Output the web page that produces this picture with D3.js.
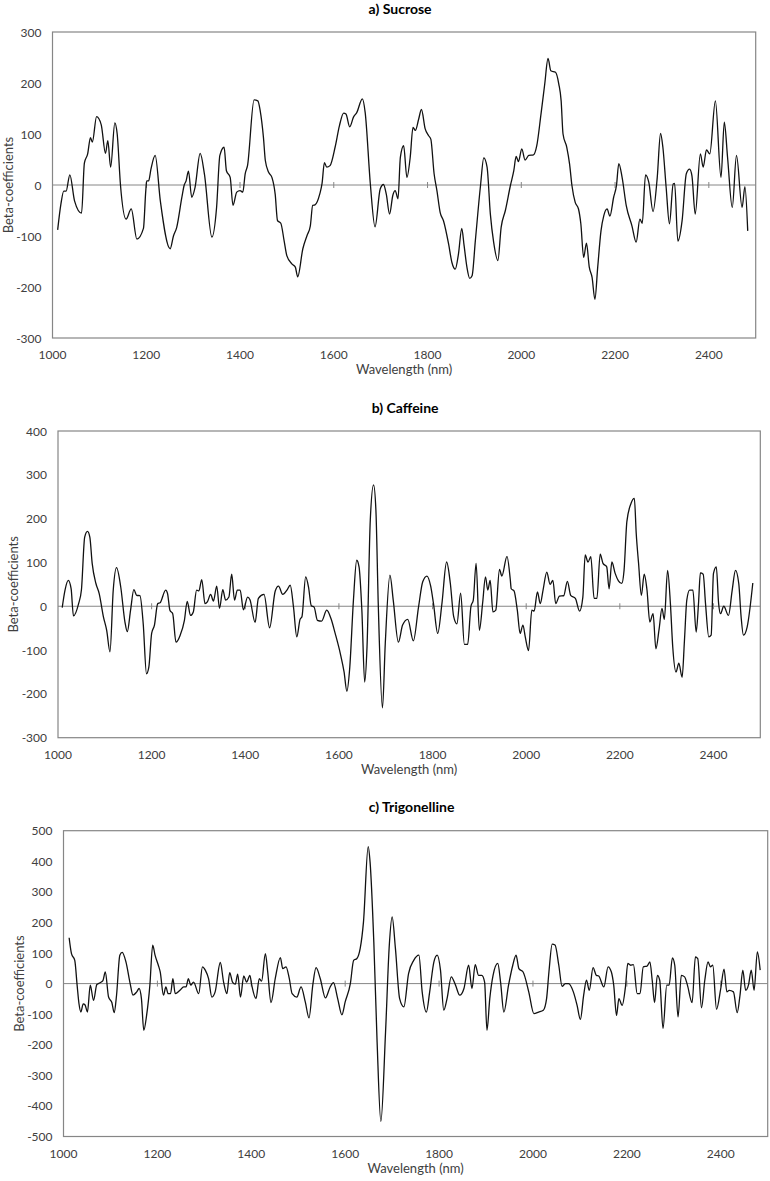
<!DOCTYPE html>
<html><head><meta charset="utf-8">
<script src="https://cdn.jsdelivr.net/npm/d3@7"></script>
<style>body{margin:0;background:#fff}svg{display:block}</style>
</head><body>
<svg id="chart" width="770" height="1181"></svg>
<script>
// ---- data (wavelength nm, beta-coefficient) ----
const sucrose = [[1011,-88],[1018,-37],[1024,-12],[1029,-12],[1037,20],[1047,-31],[1062,-55],[1068,43],[1075,61],[1081,93],[1085,84],[1094,134],[1104,118],[1113,62],[1118,87],[1124,35],[1133,122],[1138,100],[1145,0],[1157,-67],[1168,-47],[1180,-106],[1194,-85],[1199,-11],[1201,8],[1205,8],[1210,31],[1219,58],[1230,-31],[1251,-125],[1258,-100],[1265,-83],[1276,-24],[1281,0],[1285,8],[1290,27],[1297,-24],[1304,-5],[1315,62],[1324,22],[1340,-102],[1350,-44],[1357,58],[1366,74],[1371,28],[1379,15],[1385,-40],[1393,-14],[1400,-11],[1406,-14],[1411,22],[1416,38],[1430,167],[1438,165],[1443,146],[1450,93],[1454,48],[1461,25],[1468,15],[1475,-18],[1480,-70],[1487,-75],[1494,-109],[1500,-139],[1511,-155],[1518,-161],[1523,-180],[1534,-125],[1543,-99],[1550,-80],[1555,-40],[1560,-39],[1570,-18],[1575,3],[1580,44],[1585,35],[1592,38],[1603,75],[1612,116],[1621,141],[1626,139],[1634,114],[1642,133],[1649,142],[1661,169],[1667,142],[1678,2],[1688,-82],[1699,-8],[1706,1],[1712,-18],[1719,-57],[1726,-20],[1731,-11],[1737,-27],[1742,54],[1749,77],[1756,15],[1763,54],[1769,113],[1774,107],[1781,129],[1787,148],[1795,110],[1802,97],[1807,90],[1814,22],[1820,-11],[1827,-54],[1834,-70],[1845,-116],[1852,-152],[1859,-165],[1866,-135],[1873,-85],[1878,-119],[1884,-161],[1890,-183],[1895,-178],[1902,-109],[1913,-1],[1920,53],[1927,35],[1934,-57],[1941,-112],[1950,-148],[1957,-83],[1966,-50],[1977,0],[1984,28],[1989,56],[1994,46],[2001,71],[2008,49],[2016,58],[2026,59],[2033,77],[2042,139],[2050,198],[2057,248],[2063,224],[2073,221],[2080,198],[2085,165],[2089,100],[2097,74],[2103,41],[2108,-1],[2115,-34],[2122,-47],[2127,-76],[2133,-142],[2139,-114],[2145,-161],[2151,-181],[2157,-224],[2163,-161],[2170,-90],[2176,-60],[2183,-47],[2189,-61],[2197,-24],[2203,-1],[2208,42],[2215,15],[2224,-41],[2236,-80],[2245,-112],[2253,-67],[2258,-75],[2265,20],[2272,5],[2281,-52],[2290,15],[2297,101],[2302,74],[2309,-5],[2316,-76],[2324,2],[2327,3],[2334,-110],[2343,-70],[2352,22],[2359,31],[2364,18],[2371,-57],[2382,61],[2388,35],[2395,69],[2402,61],[2414,165],[2426,15],[2433,123],[2440,54],[2450,-44],[2459,58],[2471,-44],[2477,-3],[2483,-90]];

const caffeine = [[1009,-3],[1015,37],[1022,59],[1028,40],[1033,-22],[1044,6],[1050,37],[1057,158],[1063,171],[1068,158],[1073,98],[1081,52],[1088,29],[1097,-24],[1104,-55],[1111,-104],[1118,37],[1125,88],[1134,44],[1143,-36],[1148,-58],[1155,-9],[1162,38],[1168,25],[1175,24],[1182,-40],[1189,-154],[1194,-139],[1200,-62],[1206,-43],[1213,6],[1218,8],[1230,37],[1234,29],[1239,-9],[1245,-17],[1252,-82],[1261,-66],[1270,-32],[1276,11],[1283,-21],[1289,-13],[1296,37],[1301,35],[1307,61],[1314,6],[1319,10],[1326,27],[1332,12],[1339,46],[1345,-5],[1352,38],[1358,14],[1365,21],[1371,73],[1377,14],[1383,37],[1389,37],[1396,-8],[1405,21],[1410,15],[1421,-37],[1428,18],[1440,27],[1452,-49],[1464,35],[1471,46],[1480,27],[1489,37],[1496,48],[1503,-2],[1510,-70],[1517,-30],[1521,-24],[1529,67],[1535,44],[1541,1],[1547,-2],[1554,-32],[1563,-34],[1574,-9],[1583,-28],[1592,-62],[1603,-108],[1611,-150],[1617,-194],[1623,-142],[1631,14],[1638,105],[1643,90],[1649,-9],[1655,-173],[1660,-93],[1667,197],[1674,277],[1679,219],[1684,6],[1693,-232],[1699,-85],[1709,71],[1716,14],[1727,-82],[1736,-43],[1747,-30],[1759,-79],[1770,-2],[1779,56],[1788,69],[1796,46],[1802,6],[1811,-62],[1820,6],[1830,101],[1838,52],[1845,-23],[1852,-40],[1860,30],[1868,-87],[1875,-87],[1882,0],[1887,14],[1893,98],[1900,-55],[1907,8],[1913,67],[1918,37],[1923,59],[1929,-13],[1935,-9],[1943,84],[1948,69],[1959,114],[1966,61],[1968,40],[1974,35],[1981,-9],[1987,-62],[1993,-43],[1998,-70],[2005,-101],[2012,-9],[2017,-11],[2024,33],[2030,6],[2036,37],[2044,78],[2051,50],[2057,59],[2063,6],[2071,23],[2080,24],[2088,57],[2095,25],[2105,18],[2114,-11],[2121,21],[2126,117],[2132,101],[2138,113],[2145,18],[2151,18],[2158,119],[2164,98],[2172,90],[2177,40],[2183,101],[2190,75],[2197,58],[2204,52],[2209,82],[2215,193],[2224,235],[2231,246],[2235,166],[2240,98],[2246,25],[2252,73],[2258,37],[2264,-36],[2271,-17],[2277,-97],[2284,-51],[2290,-5],[2295,-30],[2302,82],[2308,6],[2313,-93],[2320,-150],[2326,-130],[2333,-162],[2338,-78],[2343,14],[2349,37],[2356,37],[2363,-59],[2368,6],[2372,76],[2378,73],[2383,6],[2390,-70],[2395,-66],[2400,75],[2406,90],[2411,6],[2415,-17],[2422,0],[2432,-21],[2440,37],[2447,82],[2454,52],[2459,-24],[2464,-66],[2472,-47],[2484,53]];

const trigonelline = [[1012,150],[1017,98],[1024,76],[1029,-5],[1033,-66],[1037,-93],[1042,-66],[1046,-70],[1051,-93],[1057,-5],[1064,-55],[1071,-3],[1078,3],[1084,10],[1089,38],[1096,-44],[1103,-62],[1108,-95],[1113,-38],[1120,93],[1125,102],[1133,71],[1142,0],[1148,-38],[1156,-27],[1161,-16],[1166,-49],[1171,-153],[1177,-104],[1184,-5],[1190,126],[1195,93],[1202,60],[1206,38],[1213,-38],[1218,-11],[1223,-33],[1228,-33],[1233,16],[1238,-33],[1248,-22],[1256,-11],[1261,-11],[1266,16],[1271,-5],[1277,5],[1288,-33],[1296,55],[1302,44],[1309,16],[1316,-44],[1323,-27],[1334,69],[1341,5],[1348,-33],[1354,36],[1360,5],[1366,-2],[1371,31],[1377,-44],[1384,25],[1390,5],[1397,27],[1401,-5],[1410,-49],[1417,16],[1422,8],[1430,98],[1435,38],[1442,-62],[1451,16],[1462,85],[1467,49],[1474,55],[1481,16],[1487,-33],[1497,-44],[1506,-11],[1515,-60],[1523,-112],[1531,-5],[1538,52],[1547,16],[1558,-47],[1568,-11],[1575,3],[1584,-49],[1593,-102],[1600,-60],[1611,0],[1618,76],[1625,82],[1632,115],[1639,202],[1649,448],[1653,398],[1661,136],[1668,-191],[1676,-451],[1686,-158],[1694,126],[1700,218],[1707,115],[1716,-49],[1725,-76],[1735,33],[1746,76],[1757,93],[1764,-27],[1773,-93],[1780,-27],[1789,71],[1796,93],[1803,44],[1810,-87],[1817,-49],[1826,22],[1835,-5],[1844,-38],[1853,-16],[1863,60],[1870,-16],[1877,62],[1884,27],[1891,27],[1897,5],[1902,-153],[1908,-49],[1915,27],[1925,66],[1931,5],[1938,-93],[1948,-5],[1957,60],[1964,93],[1970,49],[1979,38],[1991,-27],[2002,-98],[2012,-93],[2022,-87],[2029,-49],[2034,38],[2041,129],[2047,126],[2055,60],[2062,-9],[2069,0],[2076,0],[2086,-27],[2094,-71],[2101,-117],[2108,-38],[2114,11],[2120,-22],[2128,52],[2135,27],[2140,25],[2151,-11],[2160,55],[2167,38],[2172,-5],[2178,-104],[2183,-49],[2190,-71],[2197,-11],[2202,66],[2208,60],[2214,62],[2222,-33],[2228,-33],[2235,55],[2243,57],[2249,71],[2254,11],[2259,-62],[2265,27],[2270,11],[2277,-147],[2285,-5],[2290,-5],[2297,84],[2302,60],[2309,-109],[2316,27],[2323,22],[2329,-5],[2339,-62],[2346,87],[2351,82],[2359,-79],[2366,11],[2373,71],[2378,55],[2383,60],[2391,-84],[2400,-16],[2407,47],[2413,-27],[2418,-22],[2427,-27],[2435,-95],[2441,-38],[2447,44],[2453,-22],[2459,-5],[2465,44],[2471,-22],[2478,104],[2484,44]];

const xTicks = [1000, 1200, 1400, 1600, 1800, 2000, 2200, 2400];
const panelTitles = ["a) Sucrose", "b) Caffeine", "c) Trigonelline"];
const yDomains = [[-300, 300], [-300, 400], [-500, 500]];
const xDomain = [1000, 2500];
const xLabel = "Wavelength (nm)";
const yLabel = "Beta-coefficients";

// ---- layout ----
const boxes = [
  {l: 52.5, r: 755.7, t: 32, b: 338, titleY: 14},
  {l: 58, r: 760.3, t: 431, b: 737.7, titleY: 412.5},
  {l: 63.5, r: 767.7, t: 830.7, b: 1136.5, titleY: 811.5}
];
const series = [sucrose, caffeine, trigonelline];
const FONT = "Lato, 'Open Sans', sans-serif";
const textCol = "#404040";
const axisCol = "#868686";

const svg = d3.select("#chart");

boxes.forEach((bx, i) => {
  const x = d3.scaleLinear().domain(xDomain).range([bx.l, bx.r]);
  const y = d3.scaleLinear().domain(yDomains[i]).range([bx.b, bx.t]);
  const g = svg.append("g");

  // title
  g.append("text").attr("x", (bx.l + bx.r) / 2 - 4).attr("y", bx.titleY)
    .attr("text-anchor", "middle").attr("font-family", FONT).attr("font-weight", "bold")
    .attr("font-size", 14).attr("fill", "#000").text(panelTitles[i]);

  // y tick labels
  const yt = d3.range(yDomains[i][0], yDomains[i][1] + 1, 100);
  g.selectAll(".yl").data(yt).join("text")
    .attr("x", bx.l - 11).attr("y", d => y(d) + 4.5)
    .attr("text-anchor", "end").attr("font-family", FONT).attr("font-size", 12)
    .attr("fill", textCol).text(d => d);

  // x tick labels
  g.selectAll(".xl").data(xTicks).join("text")
    .attr("x", d => x(d)).attr("y", bx.b + 21)
    .attr("text-anchor", "middle").attr("font-family", FONT).attr("font-size", 12)
    .attr("fill", textCol).text(d => d);

  // axis titles
  g.append("text").attr("x", (bx.l + bx.r) / 2).attr("y", bx.b + 36)
    .attr("text-anchor", "middle").attr("font-family", FONT).attr("font-size", 13)
    .attr("fill", textCol).text(xLabel);
  g.append("text")
    .attr("transform", `translate(${bx.l - 40},${(bx.t + bx.b) / 2}) rotate(-90)`)
    .attr("text-anchor", "middle").attr("font-family", FONT).attr("font-size", 13)
    .attr("fill", textCol).text(yLabel);

  // zero axis line and ticks
  g.append("line").attr("x1", bx.l).attr("x2", bx.r).attr("y1", y(0)).attr("y2", y(0))
    .attr("stroke", axisCol).attr("stroke-width", 1);
  g.selectAll(".tk").data(xTicks.slice(1)).join("line")
    .attr("x1", d => x(d)).attr("x2", d => x(d))
    .attr("y1", y(0) - 3).attr("y2", y(0) + 3)
    .attr("stroke", axisCol).attr("stroke-width", 1);

  // curve
  const line = d3.line().x(d => x(d[0])).y(d => y(d[1])).curve(d3.curveMonotoneX);
  g.append("path").datum(series[i]).attr("d", line)
    .attr("fill", "none").attr("stroke", "#111").attr("stroke-width", 1.3)
    .attr("stroke-linejoin", "round");

  // plot box
  g.append("rect").attr("x", bx.l).attr("y", bx.t)
    .attr("width", bx.r - bx.l).attr("height", bx.b - bx.t)
    .attr("fill", "none").attr("stroke", axisCol).attr("stroke-width", 1.2);
});
</script>
</body></html>
